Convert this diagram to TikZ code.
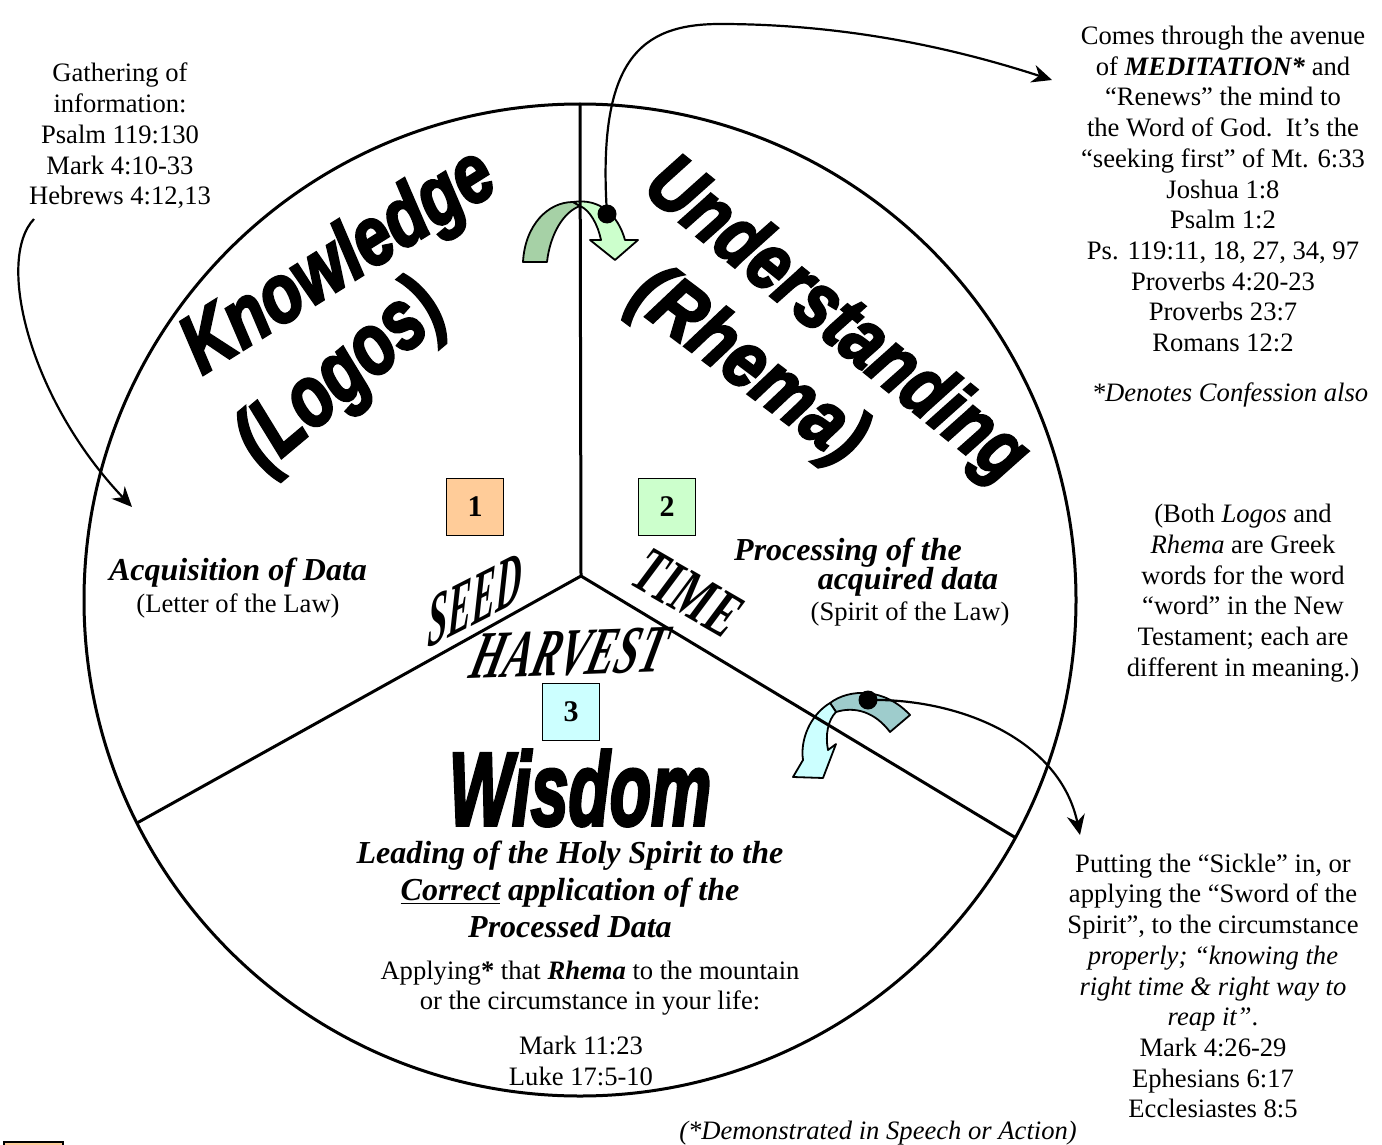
\documentclass[tikz,border=0pt]{standalone}
\usepackage{fontspec}
\setmainfont{Liberation Serif}
\newfontfamily\artfont{Liberation Sans}[FakeBold=3.5]
\usetikzlibrary{arrows.meta}
\definecolor{boxorange}{HTML}{FFCC99}
\definecolor{boxgreen}{HTML}{CCFFCC}
\definecolor{boxcyan}{HTML}{CCFFFF}
\definecolor{arrgreen}{HTML}{A6D1A6}
\definecolor{arrteal}{HTML}{9ECCCC}
\tikzset{
  body/.style={font=\fontsize{13.3}{15.35}\selectfont, align=center, inner sep=0pt},
  bodyit/.style={font=\fontsize{13.3}{15.35}\selectfont\itshape, align=center, inner sep=0pt},
  head/.style={font=\fontsize{16}{18.5}\selectfont\bfseries\itshape, align=center, inner sep=0pt},
  numbox/.style={draw, line width=0.9pt, minimum size=28.5pt, inner sep=0pt, font=\fontsize{15}{15}\selectfont\bfseries},
  art/.style={inner sep=0pt, font=\artfont\bfseries\itshape},
  deco/.style={inner sep=0pt, font=\bfseries\itshape},
  link/.style={line width=1.1pt, -{Stealth[length=10pt,width=9pt]}},
  spoke/.style={line width=1.5pt},
  blockarrow/.style={draw, line width=0.9pt, line join=round},
  dot/.style={circle, fill=black, minimum size=9.5pt, inner sep=0pt},
}
\begin{document}
\begin{tikzpicture}[x=0.5pt,y=-0.5pt]
\useasboundingbox (0,0) rectangle (1382,1145);
\clip (0,0) rectangle (1382,1145);

% circle
\coordinate (c) at (580,600);
\draw[spoke] (c) circle[radius=248pt];

% curved block arrows
\draw[blockarrow, fill=arrgreen] (523,262) .. controls (525,225) and (548,202) .. (573,202) -- (580,206) .. controls (563,212) and (550,235) .. (547,262) -- cycle;
\draw[blockarrow, fill=boxgreen] (573,202) .. controls (600,198) and (618,215) .. (625,240) -- (638,240) -- (615,260) -- (590,240) -- (601,240) .. controls (598,225) and (590,210) .. (580,206) -- cycle;

\draw[blockarrow, fill=arrteal] (830,703) .. controls (850,688) and (885,688) .. (910,715) -- (890,732) .. controls (875,712) and (855,706) .. (836,712) -- cycle;
\draw[blockarrow, fill=boxcyan] (830,703) .. controls (810,715) and (800,740) .. (803,760) -- (793,777) -- (823,778) -- (836,744) -- (828,750) .. controls (825,735) and (828,720) .. (836,712) -- cycle;

% spokes
\coordinate (hub) at (581,576);
\coordinate (top) at (580,104);
\coordinate (lft) at (137,823);
\coordinate (rgt) at (1016,838);
\draw[spoke] (hub) -- (top);
\draw[spoke] (hub) -- (lft);
\draw[spoke] (hub) -- (rgt);

% number boxes
\node[numbox, fill=boxorange] (n1) at (475,507) {1};
\node[numbox, fill=boxgreen] (n2) at (667,507) {2};
\node[numbox, fill=boxcyan] (n3) at (571,712) {3};
\draw[line width=0.9pt, fill=boxorange] (4,1142) rectangle (63,1200);

% big words
\node[art, rotate=32] (know) at (340,264) {\fontsize{33}{33}\selectfont\scalebox{1}[1.25]{Knowledge}};
\node[art, rotate=40] (logos) at (342,378) {\fontsize{33}{33}\selectfont\scalebox{1}[1.3]{(Logos)}};
\node[art, rotate=-39] (under) at (835,322) {\fontsize{33}{33}\selectfont\scalebox{1}[1.2]{Understanding}};
\node[art, rotate=-37] (rhema) at (747,368) {\fontsize{34}{34}\selectfont\scalebox{1}[1.15]{(Rhema)}};
\node[art] (wisdom) at (580,788) {\fontsize{49}{49}\selectfont\scalebox{0.69}[1.06]{Wisdom}};

\node[deco, rotate=27, xslant=0.55] (seed) at (475,600) {\fontsize{20}{20}\selectfont\scalebox{1}[1.65]{SEED}};
\node[deco, rotate=-30] (time) at (688,593) {\fontsize{22}{22}\selectfont\scalebox{1}[1.5]{TIME}};
\node[deco, rotate=2, xslant=0.3] (harvest) at (570,653) {\fontsize{21}{21}\selectfont\scalebox{1}[1.6]{HARVEST}};

% texts
\node[body] (gather) at (120,136) {Gathering of\\information:\\Psalm 119:130\\Mark 4:10-33\\Hebrews 4:12,13};
\node[body] (medit) at (1223,189) {Comes through the avenue\\of \textbf{\textit{MEDITATION*}} and\\“Renews” the mind to\\the Word of God.\ \ It’s the\\“seeking first” of Mt. 6:33\\Joshua 1:8\\Psalm 1:2\\Ps. 119:11, 18, 27, 34, 97\\Proverbs 4:20-23\\Proverbs 23:7\\Romans 12:2};
\node[bodyit] (denote) at (1230,395) {*Denotes Confession also};
\node[body] (both) at (1243,593) {(Both \textit{Logos} and\\\textit{Rhema} are Greek\\words for the word\\“word” in the New\\Testament; each are\\different in meaning.)};
\node[body] (sickle) at (1213,986) {Putting the “Sickle” in, or\\applying the “Sword of the\\Spirit”, to the circumstance\\\textit{properly; “knowing the}\\\textit{right time \& right way to}\\\textit{reap it”}.\\Mark 4:26-29\\Ephesians 6:17\\Ecclesiastes 8:5};
\node[bodyit] (demo) at (878,1133) {(*Demonstrated in Speech or Action)};

\node[head] (acq) at (238,573) {Acquisition of Data};
\node[body] (letter) at (238,606) {(Letter of the Law)};
\node[head] (proc) at (848,553) {Processing of the};
\node[head] (acqd) at (908,582) {acquired data};
\node[body] (spirit) at (910,614) {(Spirit of the Law)};

\node[head] (lead) at (570,889) {Leading of the Holy Spirit to the\\\underline{Correct} application of the\\Processed Data};
\node[body] (apply) at (590,988) {Applying\textbf{*} that \textbf{\textit{Rhema}} to the mountain\\or the circumstance in your life:};
\node[body] (mark) at (581,1061) {Mark 11:23\\Luke 17:5-10};

% connectors
\coordinate (p1) at (607,214);
\coordinate (p2) at (868,700);
\coordinate (bend) at (720,24);
\coordinate (gstart) at (34,219);
\coordinate (gend) at (132,507);
\coordinate (mend) at (1052,80);
\coordinate (send) at (1080,835);
\draw[link] (gstart) .. controls (-5,260) and (30,400) .. (gend);
\draw[link] (p1) .. controls (597,60) and (640,24) .. (bend) .. controls (850,24) and (960,50) .. (mend);
\draw[link] (p2) .. controls (960,698) and (1060,740) .. (send);
\node[dot] (d1) at (p1) {};
\node[dot] (d2) at (p2) {};
\end{tikzpicture}
\end{document}
